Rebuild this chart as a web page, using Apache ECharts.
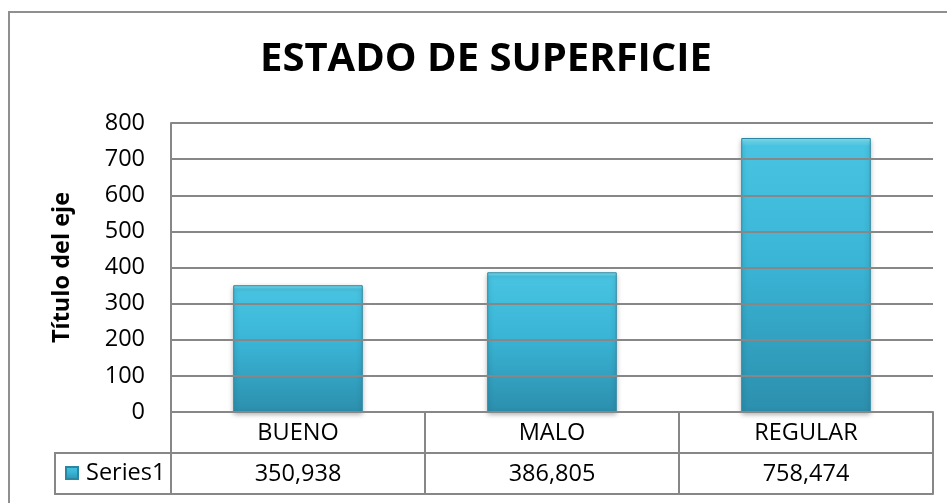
<!DOCTYPE html>
<html><head><meta charset="utf-8">
<script src="https://cdn.jsdelivr.net/npm/echarts@6/dist/echarts.min.js"></script>
<style>html,body{margin:0;padding:0;background:#fff}#c{width:947px;height:503px}</style>
</head><body><div id="c"></div>
<script>
var categories = ['BUENO', 'MALO', 'REGULAR'];
var values = [350.938, 386.805, 758.474];
var seriesName = 'Series1';
var yTicks = [0, 100, 200, 300, 400, 500, 600, 700, 800];

function fmt(v) { return v.toFixed(3).replace('.', ','); }
var valueLabels = values.map(fmt);

var FONT = 'Open Sans';
var FS = 23.5;
var GRID_L = 171, GRID_R = 14, GRID_T = 123, GRID_B = 91;
var ROW = 41;
var LINE = '#878787';

var chart = echarts.init(document.getElementById('c'));
chart.setOption({
  animation: false,
  backgroundColor: '#fff',
  title: {
    text: 'ESTADO DE SUPERFICIE', left: 260, top: 40, padding: 0,
    textStyle: { fontFamily: FONT, fontSize: 40, fontWeight: 'bold', color: '#000' }
  },
  legend: {
    data: [seriesName], left: 65, top: 503 - GRID_B + ROW + 8, padding: 0,
    itemWidth: 12, itemHeight: 12, itemGap: 4, icon: 'rect',
    textStyle: { fontFamily: FONT, fontSize: FS, color: '#000', padding: [0, 0, 0, 3] }
  },
  grid: { left: GRID_L, right: GRID_R, top: GRID_T, bottom: GRID_B },
  xAxis: [
    {
      type: 'category', data: categories, position: 'bottom',
      axisLine: { show: true, lineStyle: { color: LINE, width: 2 } },
      axisTick: { show: true, length: ROW * 2, interval: 0, lineStyle: { color: LINE, width: 2 } },
      axisLabel: { margin: 9, fontFamily: FONT, fontSize: FS, color: '#000', interval: 0 }
    },
    {
      type: 'category', data: valueLabels, position: 'bottom', offset: ROW,
      axisLine: { show: true, lineStyle: { color: LINE, width: 2 } },
      axisTick: { show: false },
      axisLabel: { margin: 9, fontFamily: FONT, fontSize: FS, color: '#000', interval: 0 }
    },
    {
      type: 'category', data: categories, position: 'bottom', offset: ROW * 2,
      axisLine: { show: true, lineStyle: { color: LINE, width: 2 } },
      axisTick: { show: false }, axisLabel: { show: false }
    }
  ],
  yAxis: {
    type: 'value', min: yTicks[0], max: yTicks[yTicks.length - 1], interval: yTicks[1] - yTicks[0],
    z: 5,
    name: 'Título del eje', nameLocation: 'middle', nameGap: 97,
    nameTextStyle: { fontFamily: FONT, fontSize: FS, fontWeight: 'bold', color: '#000' },
    axisLine: { show: true, lineStyle: { color: LINE, width: 2 } },
    axisTick: { show: false },
    axisLabel: { margin: 26, fontFamily: FONT, fontSize: FS, color: '#000' },
    splitLine: { show: true, lineStyle: { color: LINE, width: 2 } }
  },
  series: [{
    name: seriesName, type: 'bar', data: values, barWidth: '51%', z: 2,
    itemStyle: {
      color: new echarts.graphic.LinearGradient(0, 0, 0, 1, [
        { offset: 0, color: '#86e6f6' },
        { offset: 0.03, color: '#48c4e2' },
        { offset: 0.45, color: '#3ab5d6' },
        { offset: 1, color: '#2c8fad' }
      ]),
      borderColor: '#2a87a3', borderWidth: 1,
      shadowColor: 'rgba(0,0,0,0.35)', shadowBlur: 5, shadowOffsetY: 2
    }
  }],
  graphic: [
    { type: 'rect', shape: { x: 9, y: 12, width: 1000, height: 600 }, style: { fill: null, stroke: '#8f8f8f', lineWidth: 2 }, silent: true },
    { type: 'rect', shape: { x: 55, y: 503 - GRID_B + ROW, width: GRID_L - 55, height: ROW }, style: { fill: null, stroke: LINE, lineWidth: 2 }, silent: true }
  ]
});
</script></body></html>
